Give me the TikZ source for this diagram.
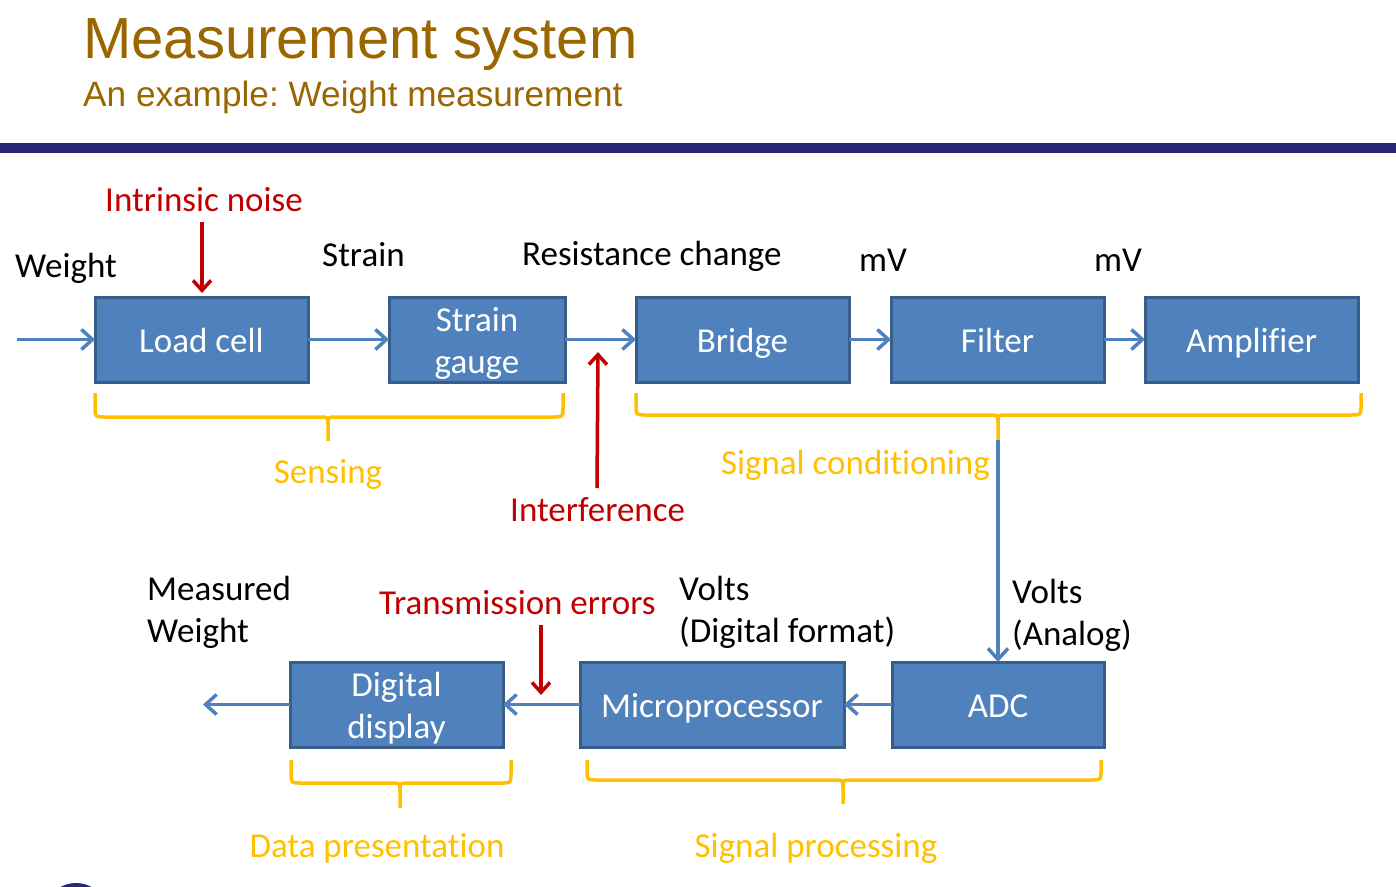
\documentclass[tikz,border=0pt]{standalone}
\usepackage{fontspec}
\setmainfont{Carlito}[Ligatures=NoCommon]
\newfontfamily\arialfont{Liberation Sans}
\frenchspacing
\usetikzlibrary{arrows.meta, positioning}

\definecolor{boxblue}{RGB}{79,129,189}
\definecolor{boxedge}{RGB}{56,93,138}
\definecolor{noisered}{RGB}{192,0,0}
\definecolor{groupgold}{RGB}{255,192,0}
\definecolor{titlebrown}{RGB}{153,102,0}
\definecolor{barnavy}{RGB}{43,38,115}

% left, right, middle, top, line, tip
\newcommand{\groupbrace}[6]{%
  \draw[grp] (#1,#4) -- (#1,#5-10) .. controls (#1,#5) .. (#1+10,#5) -- (#3-8,#5) .. controls (#3,#5) .. (#3,#5+8) -- (#3,#6);
  \draw[grp] (#2,#4) -- (#2,#5-10) .. controls (#2,#5) .. (#2-10,#5) -- (#3+8,#5) .. controls (#3,#5) .. (#3,#5+8);
}

\begin{document}
\begin{tikzpicture}[x=1pt, y=-1pt]
	\tikzset{blk/.style={draw=boxedge, fill=boxblue, line width=3pt, minimum width=213pt, minimum height=85pt, outer sep=0pt, inner sep=0pt, text height=26pt, text depth=0pt, text=white, align=center, font=\fontsize{35}{42}\selectfont},
		twoline/.style={text height=68pt},
		flow/.style={draw=boxblue, line width=3.5pt, -{Straight Barb[length=11pt,width=20pt]}},
		noise/.style={draw=noisered, line width=3.5pt, -{Straight Barb[length=10pt,width=18pt]}},
		lbl/.style={anchor=base west, inner sep=0pt, align=left, font=\fontsize{35}{42}\selectfont},
		errlbl/.style={lbl, text=noisered},
		grp/.style={draw=groupgold, line width=3.5pt},
		grplbl/.style={lbl, anchor=base, text=groupgold}}

	\useasboundingbox (0,0) rectangle (1396,886);

	% heading
	\node[anchor=base west, inner sep=0pt, text=titlebrown, font=\arialfont\fontsize{58}{70}\selectfont] (title) at (83,58) {Measurement system};
	\node[anchor=base west, inner sep=0pt, text=titlebrown, font=\arialfont\fontsize{35.2}{42}\selectfont] (subtitle) at (83,106) {An example: Weight measurement};
	\fill[barnavy] (0,143) rectangle (1396,153);
	\fill[barnavy] (76,900) ellipse (24 and 17);

	% blocks
	\node[blk] (load) at (201.5,339.5) {Load cell};
	\node[blk, twoline, minimum width=176pt, right=81pt of load] (gauge) {Strain\\gauge};
	\node[blk, right=71pt of gauge] (bridge) {Bridge};
	\node[blk, right=42pt of bridge] (filter) {Filter};
	\node[blk, right=41pt of filter] (amp) {Amplifier};
	\node[blk, minimum width=212pt] (adc) at (998,704.5) {ADC};
	\node[blk, minimum width=264pt, left=48pt of adc] (micro) {Microprocessor};
	\node[blk, twoline, left=77pt of micro] (disp) {Digital\\display};

	% signal names
	\node[lbl] (weightin) at (15,277) {Weight};
	\node[lbl] (strain) at (322,266) {Strain};
	\node[lbl] (resist) at (522,265) {Resistance change};
	\node[lbl] (mvbridge) at (859,271) {mV};
	\node[lbl] (mvfilter) at (1094,271) {mV};
	\node[lbl] (weightout) at (147,642) {Measured\\Weight};
	\node[lbl] (voltsdig) at (679,642) {Volts\\(Digital format)};
	\node[lbl] (voltsana) at (1012,645) {Volts\\(Analog)};

	% disturbances
	\node[errlbl] (inoise) at (105,211) {Intrinsic noise};
	\node[errlbl] (interf) at (510,521) {Interference};
	\node[errlbl] (txerr) at (379,614) {Transmission errors};

	% groups
	\groupbrace{95}{563}{328}{393}{417}{441}
	\groupbrace{636}{1361}{998}{393}{415}{440}
	\groupbrace{291}{511}{400}{760}{783}{808}
	\groupbrace{587}{1101}{843}{760}{780}{804}
	\node[grplbl] (sensing) at (328,483) {Sensing};
	\node[grplbl] (conditioning) at (855.5,474) {Signal conditioning};
	\node[grplbl] (presentation) at (377,857) {Data presentation};
	\node[grplbl] (processing) at (816,857) {Signal processing};

	% connectors
	\coordinate (in) at (17,339.5);
	\coordinate (out) at (203,704.5);
	\coordinate (condtip) at (998,440);
	\coordinate (noisefrom) at (202,222);
	\coordinate (noiseto) at (202,293);
	\coordinate (interffrom) at (597,488);
	\coordinate (interfto) at (598,352);
	\coordinate (txfrom) at (541,625);
	\coordinate (txto) at (541,695);

	\draw[flow] (in) -- (load);
	\draw[flow] (load) -- (gauge);
	\draw[flow] (gauge) -- (bridge);
	\draw[flow] (bridge) -- (filter);
	\draw[flow] (filter) -- (amp);
	\draw[flow] (condtip) -- (adc);
	\draw[flow] (adc) -- (micro);
	\draw[flow] (micro) -- (disp);
	\draw[flow] (disp) -- (out);

	\draw[noise] (noisefrom) -- (noiseto);
	\draw[noise] (interffrom) -- (interfto);
	\draw[noise] (txfrom) -- (txto);
\end{tikzpicture}
\end{document}
